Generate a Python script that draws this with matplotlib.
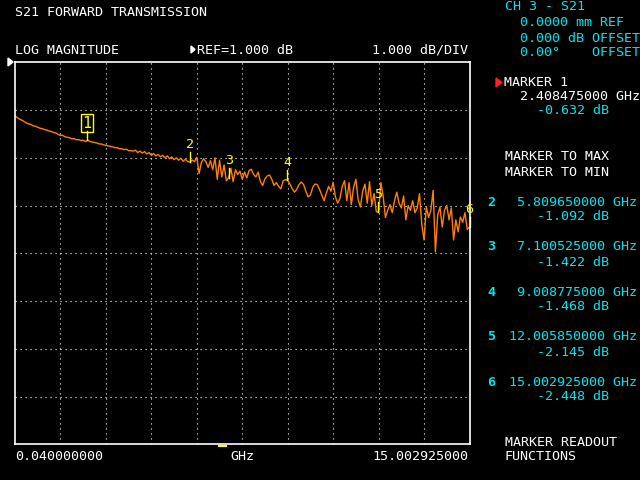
import numpy as np
import matplotlib
matplotlib.use('Agg')
import matplotlib.pyplot as plt

# sweep settings
f_start = 0.040000000
f_stop = 15.002925000
ref_level = 1.0
db_per_div = 1.0

# trace (dB), 201 points
s21_db = [
    -0.12, -0.16, -0.19, -0.21, -0.24, -0.27, -0.29, -0.30, -0.33, -0.34,
    -0.36, -0.38, -0.39, -0.41, -0.42, -0.44, -0.45, -0.47, -0.48, -0.51,
    -0.53, -0.53, -0.56, -0.57, -0.58, -0.60, -0.60, -0.62, -0.62, -0.64,
    -0.63, -0.66, -0.63, -0.66, -0.67, -0.68, -0.69, -0.71, -0.71, -0.73,
    -0.74, -0.75, -0.76, -0.77, -0.79, -0.79, -0.81, -0.81, -0.83, -0.82,
    -0.85, -0.85, -0.86, -0.84, -0.89, -0.86, -0.90, -0.87, -0.92, -0.89,
    -0.95, -0.91, -0.96, -0.93, -0.98, -0.95, -1.00, -0.96, -1.02, -0.98,
    -1.04, -1.00, -1.05, -1.01, -1.07, -1.03, -1.08, -1.09, -1.05, -1.08,
    -0.99, -1.33, -1.10, -1.02, -1.08, -1.20, -1.06, -1.25, -1.00, -1.45,
    -1.05, -1.40, -1.15, -1.48, -1.42, -1.22, -1.50, -1.25, -1.35, -1.28,
    -1.45, -1.30, -1.42, -1.27, -1.24, -1.35, -1.40, -1.30, -1.50, -1.58,
    -1.44, -1.38, -1.36, -1.45, -1.58, -1.52, -1.60, -1.65, -1.48, -1.46,
    -1.47, -1.55, -1.65, -1.72, -1.66, -1.56, -1.51, -1.56, -1.70, -1.82,
    -1.78, -1.62, -1.55, -1.56, -1.66, -1.78, -1.90, -1.74, -1.60, -1.70,
    -1.51, -1.82, -1.95, -1.85, -1.60, -1.48, -1.90, -1.52, -1.98, -1.62,
    -1.45, -1.88, -2.03, -1.70, -1.55, -1.95, -1.50, -2.00, -1.75, -2.13,
    -2.14, -1.52, -1.80, -2.25, -2.10, -1.98, -2.15, -1.90, -1.72, -1.95,
    -2.05, -1.80, -2.30, -2.00, -2.10, -1.90, -2.15, -2.05, -1.75, -2.40,
    -2.72, -2.03, -2.25, -2.10, -1.68, -2.97, -2.20, -2.03, -2.45, -2.10,
    -2.00, -2.30, -2.05, -2.72, -2.30, -2.55, -2.24, -2.35, -2.15, -2.50,
    -2.45,
]
freqs = np.linspace(f_start, f_stop, len(s21_db))

# markers
marker_ids = [1, 2, 3, 4, 5, 6]
marker_freq = [2.408475000, 5.809650000, 7.100525000, 9.008775000, 12.005850000, 15.002925000]
marker_db = [-0.632, -1.092, -1.422, -1.468, -2.145, -2.448]

W, H = 640, 480
ORANGE = '#ff8000'
YELLOW = '#ffff00'
CYAN = '#00e5ee'
WHITE = '#ffffff'
FONT = 'DejaVu Sans Mono'
FS = 9.6

fig = plt.figure(figsize=(6.4, 4.8), dpi=100, facecolor='black')

def txt(x, y, s, color=WHITE, ha='left', **kw):
    fig.text(x / W, 1 - y / H, s, color=color, ha=ha, va='center',
             family=FONT, fontsize=FS, **kw)

left, right, top, bottom = 15, 469.5, 62.3, 444.3
ax = fig.add_axes([left / W, 1 - bottom / H, (right - left) / W, (bottom - top) / H])
ax.set_facecolor('black')
ax.set_xlim(f_start, f_stop)
ax.set_ylim(ref_level - 8 * db_per_div, ref_level)
for sp in ax.spines.values():
    sp.set_color(WHITE)
    sp.set_linewidth(1.2)
ax.set_xticks([])
ax.set_yticks([])

# dotted graticule
dx = (f_stop - f_start) / 10
for k in range(1, 10):
    ax.axvline(f_start + k * dx, color=WHITE, lw=0.8, ls=(0, (1, 3.5)))
for k in range(1, 8):
    ax.axhline(ref_level - k * db_per_div, color=WHITE, lw=0.8, ls=(0, (1, 3.5)))

ax.plot(freqs, s21_db, color=ORANGE, lw=1.0, clip_on=True)

# marker symbols
tick = 0.21
for m, f, d in zip(marker_ids, marker_freq, marker_db):
    if m == 1:
        ax.plot([f, f], [d, d + 0.19], color=YELLOW, lw=1.0)
        ax.text(f, d + 0.2, '1', color=YELLOW, ha='center', va='bottom',
                family=FONT, fontsize=11,
                bbox=dict(boxstyle='square,pad=0.1', fc='none', ec=YELLOW, lw=1.0))
    else:
        ax.plot([f, f], [d, d + tick], color=YELLOW, lw=1.0, clip_on=False)
        ax.text(f, d + tick + 0.02, str(m), color=YELLOW, ha='center', va='bottom',
                family=FONT, fontsize=FS, clip_on=False)

# small stimulus indicator under the graticule
fig.add_artist(plt.Line2D([219 / W, 226 / W], [1 - 446 / H, 1 - 446 / H],
                          color=YELLOW, lw=1.5))
# reference position pointer
fig.add_artist(plt.Polygon([[8 / W, 1 - 58 / H], [8 / W, 1 - 66 / H], [13 / W, 1 - 62 / H]],
                           closed=True, color=WHITE))

# header
txt(15, 12, 'S21 FORWARD TRANSMISSION')
txt(15, 50, 'LOG MAGNITUDE')
fig.add_artist(plt.Polygon([[191 / W, 1 - 46 / H], [191 / W, 1 - 53 / H], [195 / W, 1 - 49.5 / H]],
                           closed=True, color=WHITE))
txt(197, 50, 'REF=1.000 dB')
txt(468, 50, '1.000 dB/DIV', ha='right')

# footer
txt(15, 457, '0.040000000')
txt(242, 457, 'GHz', ha='center')
txt(468, 457, '15.002925000', ha='right')

# right panel
txt(505, 7, 'CH 3 - S21', color=CYAN)
txt(520, 23, '0.0000 mm REF', color=CYAN)
txt(520, 38, '0.000 dB OFFSET', color=CYAN)
txt(520, 52, '0.00\u00b0    OFFSET', color=CYAN)

fig.add_artist(plt.Polygon([[496 / W, 1 - 78 / H], [496 / W, 1 - 87 / H], [502 / W, 1 - 82.5 / H]],
                           closed=True, color='#ff2020'))
txt(504, 82, 'MARKER 1')
txt(520, 97, '2.408475000 GHz')
txt(537, 111, '-0.632 dB', color=CYAN)

txt(505, 156, 'MARKER TO MAX')
txt(505, 172, 'MARKER TO MIN')

rows_y = [202, 247, 292, 337, 382]
for m, f, d, y in zip(marker_ids[1:], marker_freq[1:], marker_db[1:], rows_y):
    txt(487, y, str(m), color=CYAN, fontweight='bold')
    fstr = f'{f:.9f} GHz'
    txt(637, y, fstr, color=CYAN, ha='right')
    txt(537, y + 15, f'{d:.3f} dB', color=CYAN)

txt(505, 442, 'MARKER READOUT')
txt(505, 457, 'FUNCTIONS')

fig.savefig('out.png', dpi=100, facecolor='black')
